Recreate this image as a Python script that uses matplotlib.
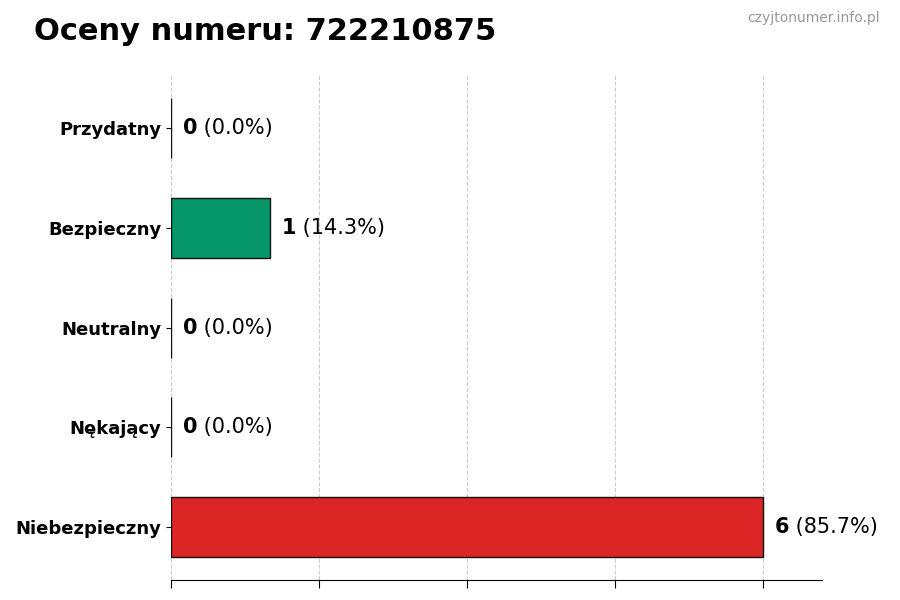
import matplotlib.pyplot as plt

# ---- data ----
categories = ['Niebezpieczny', 'Nękający', 'Neutralny', 'Bezpieczny', 'Przydatny']
counts = [6, 0, 0, 1, 0]
colors = ['#dc2626', '#f59e0b', '#9ca3af', '#059669', '#2563eb']
number = '722210875'

total = sum(counts)

fig = plt.figure(figsize=(9, 6), dpi=100)
ax = fig.add_axes([0.19, 0.033, 0.723, 0.842])

ypos = range(len(categories))
ax.barh(ypos, counts, height=0.6, color=colors, edgecolor='#111111', linewidth=1)
ax.set_yticks(list(ypos))
ax.set_yticklabels(categories, fontsize=13, fontweight='bold')
ax.set_xlim(0, max(counts) * 1.1)
ax.set_xticks([0, 1.5, 3, 4.5, 6])
ax.set_xticklabels([])
ax.tick_params(axis='x', length=6)
ax.grid(axis='x', linestyle='--', color='#cccccc', linewidth=0.8)
ax.set_axisbelow(True)
for s in ['top', 'right', 'left']:
    ax.spines[s].set_visible(False)

off = max(counts) * 0.02
for i, c in enumerate(counts):
    pct = 100.0 * c / total
    t = ax.text(c + off, i, str(c), va='center', ha='left', fontsize=15, fontweight='bold')
    ax.annotate(' (%.1f%%)' % pct, xycoords=t, xy=(1, 0), va='bottom', ha='left', fontsize=15)

fig.text(0.038, 0.948, 'Oceny numeru: ' + number, fontsize=22, fontweight='bold', va='center')
fig.text(0.978, 0.97, 'czyjtonumer.info.pl', fontsize=10, color='#999999', ha='right', va='center')

fig.savefig('out.png', dpi=100)
